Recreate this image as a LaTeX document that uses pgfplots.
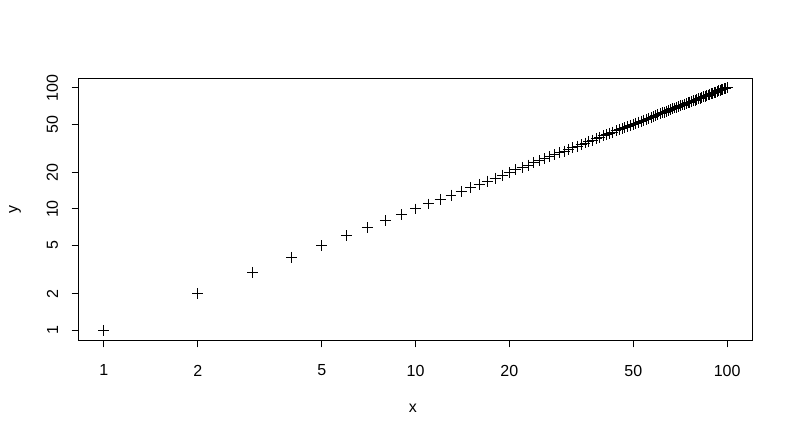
\documentclass[border=0pt]{standalone}
\usepackage{fontspec}
\setmainfont{Liberation Sans}
\usepackage{pgfplots}
\pgfplotsset{compat=1.18}
\begin{document}
\fontsize{12}{14}\selectfont
\begin{tikzpicture}
\useasboundingbox (0,0) rectangle (594pt,327.75pt);
\begin{axis}[
  at={(59.25pt,72.75pt)}, anchor=south west,
  width=504.75pt, height=196.5pt, scale only axis,
  xmode=log, ymode=log,
  xmin=0.8318, xmax=120.2, ymin=0.8318, ymax=120.2,
  axis line style={line width=0.75pt},
  xtick={1,2,5,10,20,50,100}, ytick={1,2,5,10,20,50,100},
  xticklabels={1,2,5,10,20,50,100}, yticklabels={1,2,5,10,20,50,100},
  minor tick num=0,
  xtick pos=bottom, ytick pos=left,
  tick align=outside, major tick length=5.5pt,
  tick style={line width=0.75pt, black},
  xticklabel style={yshift=-9pt},
  yticklabel shift=6pt,
  yticklabel style={rotate=90, anchor=south},
  xlabel={x}, ylabel={y},
  xlabel style={at={(axis description cs:0.496,-0.26)}, anchor=center},
  ylabel style={at={(axis description cs:-0.095,0.5)}, anchor=center},
  ticklabel style={font=\fontsize{12}{14}\selectfont},
  label style={font=\fontsize{12}{14}\selectfont},
  clip=false,
]
\addplot[only marks, mark=+, mark size=4.1pt, mark options={line width=0.75pt}, black] coordinates {
(1,1) (2,2) (3,3) (4,4) (5,5) (6,6) (7,7) (8,8) (9,9) (10,10)
(11,11) (12,12) (13,13) (14,14) (15,15) (16,16) (17,17) (18,18) (19,19) (20,20)
(21,21) (22,22) (23,23) (24,24) (25,25) (26,26) (27,27) (28,28) (29,29) (30,30)
(31,31) (32,32) (33,33) (34,34) (35,35) (36,36) (37,37) (38,38) (39,39) (40,40)
(41,41) (42,42) (43,43) (44,44) (45,45) (46,46) (47,47) (48,48) (49,49) (50,50)
(51,51) (52,52) (53,53) (54,54) (55,55) (56,56) (57,57) (58,58) (59,59) (60,60)
(61,61) (62,62) (63,63) (64,64) (65,65) (66,66) (67,67) (68,68) (69,69) (70,70)
(71,71) (72,72) (73,73) (74,74) (75,75) (76,76) (77,77) (78,78) (79,79) (80,80)
(81,81) (82,82) (83,83) (84,84) (85,85) (86,86) (87,87) (88,88) (89,89) (90,90)
(91,91) (92,92) (93,93) (94,94) (95,95) (96,96) (97,97) (98,98) (99,99) (100,100)
};
\end{axis}
\end{tikzpicture}
\end{document}
